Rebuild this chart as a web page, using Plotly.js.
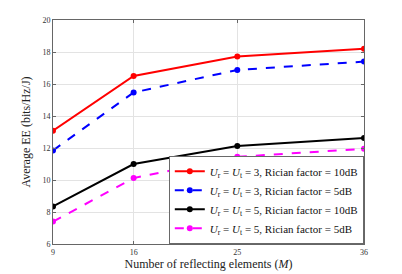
<!DOCTYPE html>
<html><head><meta charset="utf-8">
<script src="https://cdn.plot.ly/plotly-3.0.1.min.js"></script>
<style>body{margin:0;background:#fff}#c{width:402px;height:274px}</style>
</head><body><div id="c"></div>
<script>
const M = [9, 16, 25, 36];
const red = [13.08, 16.5, 17.72, 18.2];
const blue = [11.85, 15.47, 16.88, 17.4];
const black = [8.35, 11.0, 12.12, 12.63];
const magenta = [7.4, 10.12, 11.45, 11.95];
const names = [
  '<i>U</i><sub>r</sub> = <i>U</i><sub>t</sub> = 3, Rician factor = 10dB',
  '<i>U</i><sub>r</sub> = <i>U</i><sub>t</sub> = 3, Rician factor = 5dB',
  '<i>U</i><sub>r</sub> = <i>U</i><sub>t</sub> = 5, Rician factor = 10dB',
  '<i>U</i><sub>r</sub> = <i>U</i><sub>t</sub> = 5, Rician factor = 5dB'
];
const series = [red, blue, black, magenta];
const colors = ['#ff0000', '#0000ff', '#000000', '#ff00ff'];
const dashes = ['solid', 'dash', 'solid', 'dash'];
const traces = series.map((y, i) => ({
  x: M, y: y, name: names[i], mode: 'lines+markers',
  line: {color: colors[i], width: 2, dash: dashes[i]},
  marker: {color: colors[i], size: 6}
}));
const font = {family: 'Liberation Serif, DejaVu Serif, serif', color: '#222'};
Plotly.newPlot('c', traces, {
  width: 402, height: 274,
  margin: {l: 53, r: 38, t: 20, b: 30},
  paper_bgcolor: '#fff', plot_bgcolor: '#fff',
  font: font,
  showlegend: true,
  legend: {x: 1, y: 0, xanchor: 'right', yanchor: 'bottom', bgcolor: '#fff',
    bordercolor: '#444', borderwidth: 0.8, font: {size: 11, family: font.family, color: '#111'},
    tracegroupgap: 0, itemwidth: 20},
  xaxis: {range: [9, 36], tickvals: M, ticktext: M.map(String), ticks: 'inside', ticklen: 3,
    tickcolor: '#666', showline: true, linecolor: '#666', linewidth: 1, mirror: 'ticks',
    showgrid: true, gridcolor: '#e3e3e3', zeroline: false,
    tickfont: {size: 8, family: font.family, color: '#333'},
    title: {text: 'Number of reflecting elements (<i>M</i>)', font: {size: 12, family: font.family, color: '#222'}, standoff: 4}},
  yaxis: {range: [6, 20], dtick: 2, ticks: 'inside', ticklen: 3,
    tickcolor: '#666', showline: true, linecolor: '#666', linewidth: 1, mirror: 'ticks',
    showgrid: true, gridcolor: '#e3e3e3', zeroline: false,
    tickfont: {size: 8, family: font.family, color: '#333'},
    title: {text: 'Average EE (bits/Hz/J)', font: {size: 12, family: font.family, color: '#222'}, standoff: 9}}
}, {displayModeBar: false, staticPlot: true});
</script></body></html>
